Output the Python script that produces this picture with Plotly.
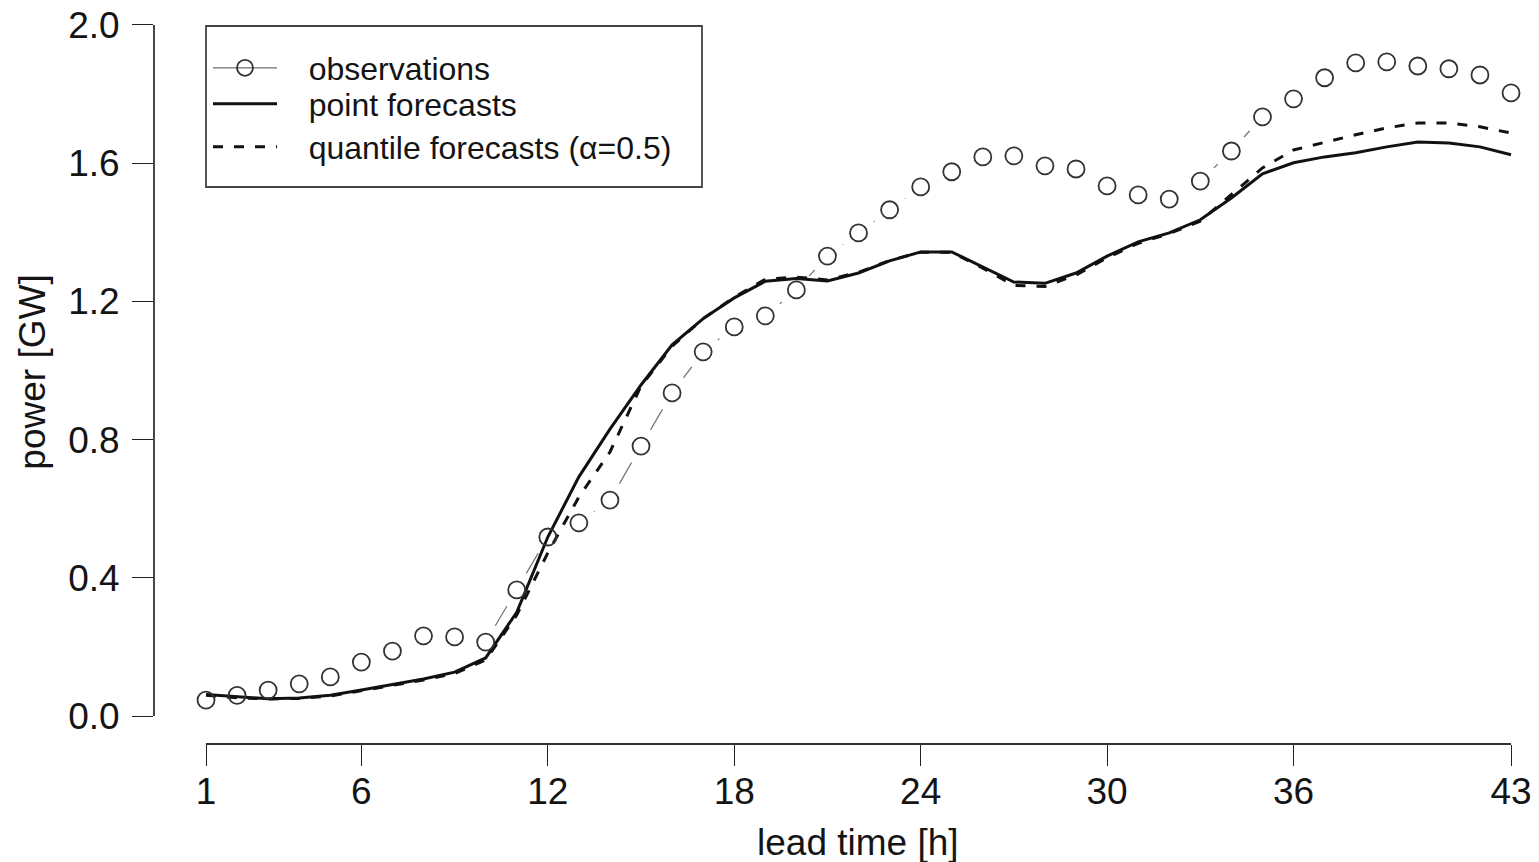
import plotly.graph_objects as go

lead_time = list(range(1, 44))

observations = [0.046, 0.060, 0.075, 0.093, 0.113, 0.156, 0.188, 0.232, 0.229, 0.214,
                0.365, 0.518, 0.559, 0.625, 0.781, 0.935, 1.054, 1.126, 1.158, 1.233,
                1.331, 1.398, 1.465, 1.531, 1.575, 1.618, 1.621, 1.592, 1.583, 1.534,
                1.508, 1.496, 1.548, 1.635, 1.734, 1.786, 1.847, 1.890, 1.893, 1.881,
                1.873, 1.855, 1.803]

point_forecasts = [0.062, 0.055, 0.050, 0.052, 0.060, 0.075, 0.090, 0.107, 0.127, 0.168,
                   0.300, 0.518, 0.692, 0.830, 0.958, 1.074, 1.150, 1.210, 1.258, 1.266,
                   1.259, 1.282, 1.317, 1.343, 1.343, 1.300, 1.256, 1.252, 1.282, 1.331,
                   1.372, 1.398, 1.436, 1.499, 1.569, 1.601, 1.618, 1.630, 1.647, 1.661,
                   1.658, 1.647, 1.624]

quantile_forecasts = [0.060, 0.053, 0.049, 0.051, 0.058, 0.073, 0.088, 0.104, 0.123, 0.162,
                      0.292, 0.472, 0.634, 0.764, 0.955, 1.070, 1.150, 1.212, 1.264, 1.270,
                      1.262, 1.284, 1.318, 1.342, 1.342, 1.296, 1.246, 1.243, 1.276, 1.326,
                      1.368, 1.396, 1.432, 1.508, 1.586, 1.638, 1.661, 1.682, 1.702, 1.716,
                      1.716, 1.705, 1.687]

x_ticks = [1, 6, 12, 18, 24, 30, 36, 43]
y_ticks = [0.0, 0.4, 0.8, 1.2, 1.6, 2.0]

FONT = "Liberation Sans, Arial, Helvetica, sans-serif"
TXT = "#141414"
PAD = "\u00a0\u00a0\u00a0"
AX_FS = 37

fig = go.Figure()

# observations: thin grey connecting line (R type="b" look) + legend entry
fig.add_trace(go.Scatter(
    x=lead_time, y=observations, mode="lines+markers", name=PAD + "observations",
    line=dict(color="#707070", width=1.2),
    marker=dict(symbol="circle-open", size=17, color="#333333", line=dict(width=1.8)),
    legend="legend", hoverinfo="skip"))
# white masks producing the gaps around the points
fig.add_trace(go.Scatter(
    x=lead_time, y=observations, mode="markers", showlegend=False,
    marker=dict(symbol="circle", size=38, color="white", line=dict(width=0)),
    hoverinfo="skip"))
fig.add_trace(go.Scatter(
    x=lead_time, y=point_forecasts, mode="lines", name=PAD + "point forecasts",
    line=dict(color="#111111", width=3), legend="legend2"))
fig.add_trace(go.Scatter(
    x=lead_time, y=quantile_forecasts, mode="lines", name=PAD + "quantile forecasts (α=0.5)",
    line=dict(color="#111111", width=3, dash="10px,11px"), legend="legend3"))
fig.add_trace(go.Scatter(
    x=lead_time, y=observations, mode="markers", showlegend=False,
    marker=dict(symbol="circle-open", size=17, color="#333333", line=dict(width=1.8)),
    hoverinfo="skip"))

PLOT_W, PLOT_H = 1539 - 154, 744


def leg(py):
    return dict(x=(208 - 154) / PLOT_W, y=1 - py / PLOT_H, xanchor="left", yanchor="middle",
                bgcolor="rgba(0,0,0,0)", borderwidth=0,
                font=dict(family=FONT, size=32, color=TXT), itemwidth=64)


fig.update_layout(
    width=1539, height=862,
    margin=dict(l=154, r=0, t=0, b=118),
    paper_bgcolor="white", plot_bgcolor="white",
    font=dict(family=FONT, size=AX_FS, color=TXT),
    showlegend=True,
    legend=leg(68), legend2=leg(104), legend3=leg(147),
    xaxis=dict(range=[-0.674, 43.9], showgrid=False, zeroline=False, showline=False,
               tickmode="array", tickvals=x_ticks, ticktext=[str(v) for v in x_ticks],
               ticks="outside", ticklen=21, tickwidth=1.3, tickcolor="#222222",
               ticklabelstandoff=-6, tickfont=dict(size=AX_FS)),
    yaxis=dict(range=[-0.081, 2.072], showgrid=False, zeroline=False, showline=False,
               tickmode="array", tickvals=y_ticks, ticktext=[f"{v:.1f}" for v in y_ticks],
               ticks="outside", ticklen=21, tickwidth=1.3, tickcolor="#222222",
               ticklabelstandoff=5, tickfont=dict(size=AX_FS),
               title=dict(text="power [GW]", standoff=11,
                          font=dict(family=FONT, size=AX_FS, color=TXT))),
    annotations=[
        dict(text="lead time [h]", xref="paper", yref="paper",
             x=(858 - 154) / PLOT_W, y=1 - 842 / PLOT_H, xanchor="center", yanchor="middle",
             showarrow=False, font=dict(family=FONT, size=AX_FS, color=TXT)),
    ],
    shapes=[
        # R-style detached axis lines spanning only the tick range
        dict(type="line", xref="x domain", yref="y", x0=0, x1=0, y0=y_ticks[0], y1=y_ticks[-1],
             line=dict(color="#333333", width=1.8)),
        dict(type="line", xref="x", yref="y domain", x0=x_ticks[0], x1=x_ticks[-1], y0=0, y1=0,
             line=dict(color="#333333", width=1.8)),
        # legend box
        dict(type="rect", xref="paper", yref="paper",
             x0=(206 - 154) / PLOT_W, x1=(702 - 154) / PLOT_W,
             y0=1 - 187 / PLOT_H, y1=1 - 26 / PLOT_H,
             line=dict(color="#444444", width=1.8), fillcolor="rgba(0,0,0,0)"),
    ],
)

fig.write_html("out.html")
